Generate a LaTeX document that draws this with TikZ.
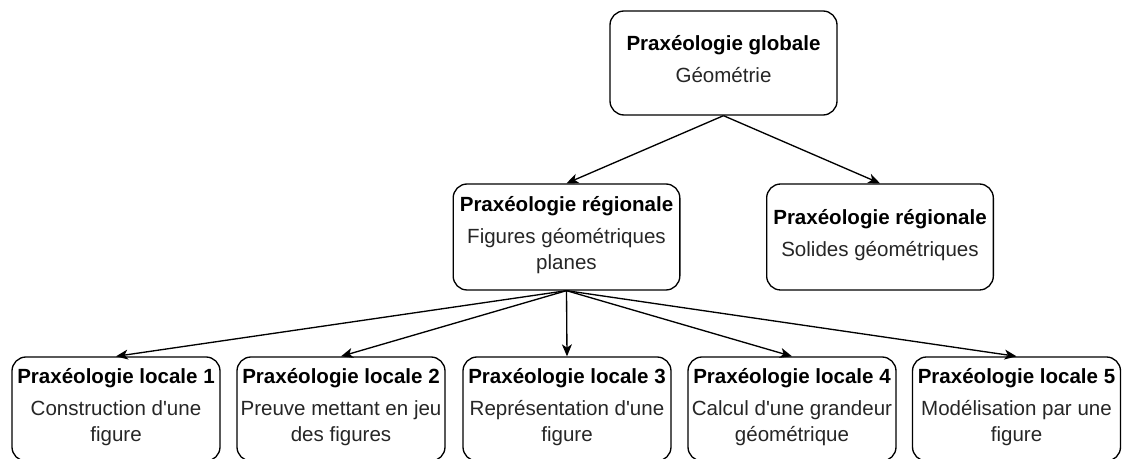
\documentclass[tikz,border=0pt]{standalone}
\usepackage{fontspec}
\setmainfont{Liberation Sans}[Ligatures=TeXOff]
\usetikzlibrary{arrows.meta}
\tikzset{
  box/.style={draw=black, line width=1pt, rounded corners=10.5pt, fill=white,
    align=center, inner sep=1pt, text=black!85,
    font=\fontsize{15.4}{20}\selectfont},
  topbox/.style={box, minimum width=170.25pt, minimum height=78pt},
  midbox/.style={box, minimum width=170pt, minimum height=79.5pt},
  lowbox/.style={box, minimum width=156pt, minimum height=78pt},
  conn/.style={draw=black, line width=1pt, -{Stealth[length=9pt, width=7.5pt, inset=2.5pt]}}
}
\newcommand{\ttl}[1]{\textbf{\color{black}#1}}
\begin{document}
\begin{tikzpicture}[x=0.75pt, y=-0.75pt]
\useasboundingbox (0,0) rectangle (1122,459);
\node[topbox] (g) at (723.5,63) {\ttl{Praxéologie globale}\\[4pt]Géométrie\rule[-6pt]{0pt}{0pt}};
\node[midbox] (r1) at (566.5,237) {\ttl{Praxéologie régionale}\\[4pt]Figures géométriques\\planes\rule[-6pt]{0pt}{0pt}};
\node[midbox] (r2) at (880,237) {\ttl{Praxéologie régionale}\\[4pt]Solides géométriques\rule[-6pt]{0pt}{0pt}};
\node[lowbox] (l1) at (116,409) {\ttl{Praxéologie locale 1}\\[4pt]Construction d'une\\figure\rule[-6pt]{0pt}{0pt}};
\node[lowbox] (l2) at (341,409) {\ttl{Praxéologie locale 2}\\[4pt]Preuve mettant en jeu\\des figures\rule[-6pt]{0pt}{0pt}};
\node[lowbox] (l3) at (567,409) {\ttl{Praxéologie locale 3}\\[4pt]Représentation d'une\\figure\rule[-6pt]{0pt}{0pt}};
\node[lowbox] (l4) at (792,409) {\ttl{Praxéologie locale 4}\\[4pt]Calcul d'une grandeur\\géométrique\rule[-6pt]{0pt}{0pt}};
\node[lowbox] (l5) at (1016.5,409) {\ttl{Praxéologie locale 5}\\[4pt]Modélisation par une\\figure\rule[-6pt]{0pt}{0pt}};
\draw[conn] (g.south) -- (r1.north);
\draw[conn] (g.south) -- (r2.north);
\foreach \t in {l1,l2,l3,l4,l5} \draw[conn] (r1.south) -- (\t.north);
\end{tikzpicture}
\end{document}
